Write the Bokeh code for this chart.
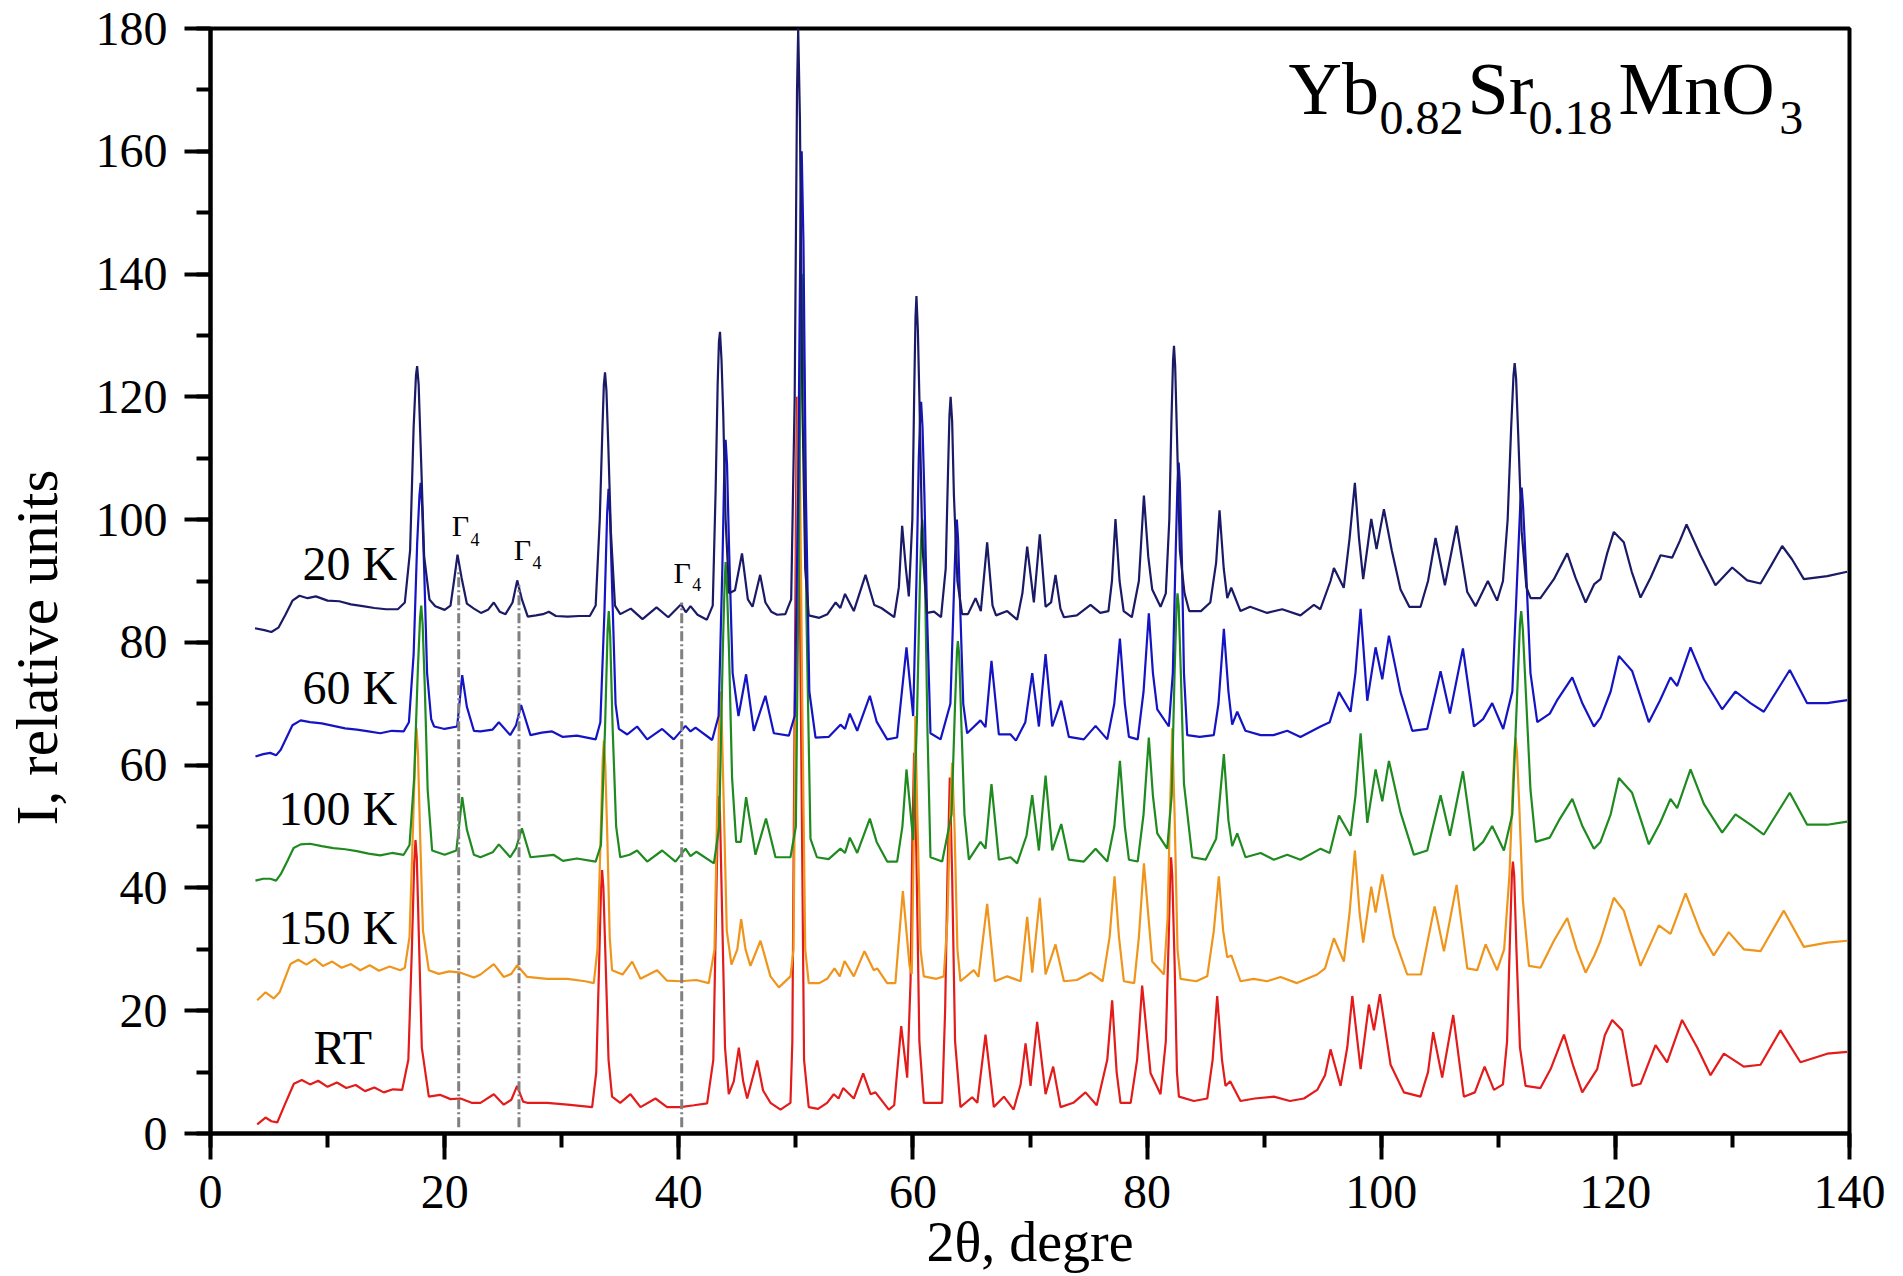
from bokeh.plotting import figure
from bokeh.models import Range1d, Label, SingleIntervalTicker
from bokeh.embed import file_html
from bokeh.resources import INLINE
from bokeh.core.properties import value

# ---------------- data ----------------
pattern_20K = [
    (3.8, 82.3), (4.6, 82.0), (5.2, 81.7), (5.8, 82.4), (6.4, 84.5), (7.0, 86.8), (7.6, 87.6), (8.3, 87.2),
    (9.0, 87.5), (10.0, 86.8), (11.0, 86.7), (12.0, 86.2), (13.0, 85.9), (14.0, 85.6), (15.0, 85.4), (16.0, 85.4),
    (16.6, 86.5), (17.05, 95), (17.35, 115), (17.55, 123.5), (17.65, 125), (17.78, 122), (17.95, 112), (18.25, 94), (18.7, 87), (19.2, 85.9),
    (20.0, 85.3), (20.5, 86.0), (20.8, 90.0), (21.1, 94.3), (21.45, 90.5), (21.9, 86.3), (22.5, 85.5), (23.1, 84.8),
    (23.7, 85.3), (24.2, 86.5), (24.7, 85.0), (25.2, 84.6), (25.8, 86.5), (26.2, 90.1), (26.6, 87.0), (27.1, 84.2),
    (27.8, 84.4), (28.4, 84.6), (28.9, 85.0), (29.5, 84.3), (30.5, 84.2), (31.5, 84.3), (32.4, 84.3),
    (32.9, 86.0), (33.25, 100), (33.48, 115), (33.6, 122), (33.7, 124), (33.82, 121), (33.98, 112), (34.2, 98), (34.55, 86), (35.0, 84.6),
    (35.9, 85.5), (36.9, 83.8), (38.1, 85.7), (39.1, 84.1), (40.2, 86.2), (40.6, 84.9), (41.0, 85.9), (41.6, 84.5),
    (42.4, 83.7), (42.9, 86.0), (43.15, 105), (43.32, 122), (43.43, 129), (43.52, 130.6), (43.65, 126), (43.8, 117), (44.0, 100), (44.3, 88),
    (44.8, 88.5), (45.4, 94.5), (45.9, 87.0), (46.3, 85.8), (46.95, 91.0), (47.4, 86.5), (47.9, 85.0), (48.4, 84.5),
    (49.1, 84.6), (49.6, 87.0), (49.9, 120), (50.1, 170), (50.2, 180), (50.35, 165), (50.55, 120), (50.8, 92),
    (51.1, 84.4), (52.0, 84.0), (52.7, 84.6), (53.4, 86.5), (53.8, 85.6), (54.2, 87.9), (54.95, 85.1), (55.95, 91.0),
    (56.7, 86.1), (57.3, 85.6), (58.4, 84.1), (58.8, 89.0), (59.08, 99.0), (59.4, 92.0), (59.65, 87.5),
    (59.95, 100), (60.12, 122), (60.22, 133), (60.3, 136.4), (60.42, 131), (60.55, 120), (60.8, 96), (61.2, 84.8), (61.8, 85.0), (62.4, 84.1),
    (62.8, 92), (63.0, 108), (63.12, 117), (63.22, 120), (63.35, 116), (63.5, 104), (63.8, 90), (64.2, 84.6), (64.7, 84.6), (65.35, 87.2),
    (65.8, 85.1), (66.34, 96.3), (66.8, 86), (67.1, 84.4), (68.05, 85.1), (68.9, 83.7), (69.35, 88), (69.76, 95.6),
    (70.33, 86.5), (70.84, 97.6), (71.33, 85.8), (71.8, 86.5), (72.18, 91.0), (72.6, 85.5), (72.9, 84.1), (74.0, 84.4),
    (75.17, 86.1), (76.0, 84.8), (76.7, 85.1), (77.0, 90), (77.3, 100.1), (77.65, 90), (78.0, 85.1), (78.7, 84.1),
    (79.3, 90), (79.73, 103.9), (80.1, 94), (80.44, 88.6), (81.15, 85.8), (81.6, 88), (81.9, 100), (82.08, 116),
    (82.22, 126), (82.3, 128.3), (82.4, 125), (82.55, 114), (82.8, 95), (83.2, 88.0), (83.6, 85.1), (84.6, 85.1), (85.4, 86.5), (85.9, 93),
    (86.19, 101.5), (86.55, 92), (86.85, 87.2), (87.19, 88.9), (87.98, 85.1), (88.8, 85.8), (90.26, 84.8),
    (91.54, 85.4), (93.1, 84.4), (94.25, 86.1), (94.8, 85.4), (95.67, 90.0), (95.96, 92.1), (96.8, 88.9), (97.3, 97),
    (97.75, 106.0), (98.1, 97), (98.46, 90.3), (99.15, 100.1), (99.6, 95.2), (100.23, 101.7), (100.9, 95),
    (101.65, 88.6), (102.4, 85.8), (103.36, 85.8), (104.0, 90), (104.64, 97.0), (105.44, 89.3), (106.44, 99.0),
    (107.35, 88.2), (108.06, 85.9), (109.11, 90.0), (109.9, 86.8), (110.4, 90), (110.8, 100), (111.1, 115),
    (111.3, 123.5), (111.4, 125.5), (111.52, 123), (111.7, 114), (112.0, 98), (112.4, 89), (112.76, 87.2), (113.6, 87.2), (114.75, 90.3),
    (115.89, 94.5), (116.6, 90.5), (117.46, 86.5), (118.2, 89.5), (118.73, 90.3), (119.3, 94.5), (119.87, 98.0),
    (120.72, 96.3), (121.4, 91.5), (122.15, 87.3), (123.0, 90.5), (123.86, 94.2), (124.85, 93.8), (125.5, 96.5),
    (126.08, 99.2), (127.27, 94.2), (128.55, 89.3), (129.98, 92.2), (131.26, 90.1), (132.4, 89.6), (133.3, 92.5),
    (134.25, 95.7), (135.1, 93.5), (136.1, 90.3), (138.1, 90.8), (139.8, 91.5),
]

pattern_60K = [
    (3.84, 61.4), (4.5, 61.8), (5.1, 62.0), (5.6, 61.6), (6.0, 62.5), (6.5, 64.5), (7.0, 66.5), (7.7, 67.3),
    (8.5, 67.0), (9.5, 66.8), (10.5, 66.4), (11.5, 66.0), (12.5, 65.8), (13.5, 65.5), (14.5, 65.2), (15.5, 65.6),
    (16.5, 65.5), (16.95, 67), (17.35, 78), (17.65, 96), (17.85, 104), (17.95, 106), (18.08, 102), (18.25, 92), (18.5, 75), (18.85, 67.5),
    (19.1, 66.3), (20.0, 65.9), (21.07, 66.3), (21.5, 74.65), (21.9, 69.5), (22.5, 65.6), (23.06, 65.5),
    (24.1, 65.8), (24.63, 67.0), (25.6, 64.9), (26.1, 66.5), (26.53, 69.8), (27.33, 64.9), (28.3, 65.3),
    (29.18, 65.5), (30.1, 64.6), (31.3, 64.8), (32.9, 64.2), (33.3, 67), (33.65, 85), (33.88, 101), (34.0, 105), (34.12, 101), (34.35, 86),
    (34.6, 70), (34.88, 65.9), (35.6, 65.0), (36.44, 66.3), (37.3, 64.2), (38.58, 65.9), (39.57, 64.2),
    (40.57, 66.4), (41.0, 65.5), (41.43, 66.1), (42.85, 64.1), (43.4, 68), (43.72, 92), (43.9, 109), (44.0, 113), (44.12, 109), (44.3, 95),
    (44.6, 75), (45.1, 68), (45.75, 74.8), (46.41, 65.6), (47.4, 71.3), (48.12, 65.2), (49.4, 64.8), (49.9, 68),
    (50.2, 105), (50.4, 150), (50.5, 160), (50.65, 145), (50.85, 105), (51.15, 72), (51.68, 64.5), (52.8, 64.6),
    (53.81, 66.6), (54.2, 65.9), (54.61, 68.4), (55.24, 65.6), (56.32, 71.3), (56.9, 67.1), (57.8, 64.2),
    (58.65, 64.5), (59.45, 79.2), (60.02, 68.0), (60.3, 90), (60.5, 110), (60.62, 117), (60.7, 119.2), (60.82, 115), (60.98, 104), (61.2, 85),
    (61.5, 65.2), (62.36, 64.2), (63.2, 70), (63.5, 88), (63.67, 98), (63.75, 100), (63.85, 97), (64.05, 85), (64.3, 70), (64.63, 65.2),
    (65.77, 67.3), (66.2, 66.2), (66.71, 77.0), (67.34, 65.0), (68.34, 65.0), (68.8, 64.0), (69.6, 67),
    (70.19, 75.0), (70.76, 66.3), (71.33, 78.1), (71.9, 66.3), (72.67, 70.5), (73.32, 64.6), (74.6, 64.2),
    (75.6, 66.4), (76.6, 64.2), (77.2, 70), (77.68, 80.6), (78.1, 70), (78.45, 64.6), (79.2, 64.2), (79.7, 72),
    (80.15, 84.75), (80.5, 75), (80.87, 69.1), (81.86, 66.3), (82.2, 75), (82.45, 95), (82.6, 106), (82.7, 109.3), (82.8, 106), (82.98, 93),
    (83.15, 75), (83.43, 64.9), (84.5, 64.6), (85.7, 64.9), (86.1, 70), (86.56, 82.2), (86.95, 72), (87.27, 66.6),
    (87.7, 68.7), (88.4, 65.6), (89.7, 64.9), (90.8, 64.9), (91.97, 65.6), (93.1, 64.6), (94.82, 66.3),
    (95.6, 67.0), (96.39, 71.9), (97.38, 68.7), (97.8, 75), (98.24, 85.45), (98.81, 70.5), (99.52, 79.2),
    (100.09, 74.0), (100.66, 81.1), (101.65, 71.9), (102.65, 65.6), (103.93, 65.9), (105.07, 75.3), (105.87, 68.4),
    (106.98, 79.0), (107.92, 66.3), (108.7, 67.5), (109.48, 70.1), (110.42, 65.9), (111.2, 72), (111.6, 90),
    (111.88, 102.5), (112.0, 105.2), (112.12, 102), (112.35, 93), (112.75, 75), (113.33, 67.0), (114.4, 68.4), (115.0, 70.5), (116.32, 74.3),
    (117.2, 70.0), (118.17, 66.3), (118.73, 67.7), (119.6, 72), (120.3, 77.8), (121.43, 75.35), (122.86, 67.0),
    (123.8, 70.5), (124.71, 74.3), (125.28, 72.9), (126.42, 79.2), (127.56, 74.0), (129.12, 69.1), (130.26, 72.0),
    (131.54, 70.1), (132.68, 68.7), (134.9, 75.5), (136.38, 70.1), (138.1, 70.1), (139.8, 70.6),
]

pattern_100K = [
    (3.84, 41.2), (4.5, 41.5), (5.1, 41.5), (5.6, 41.2), (6.0, 42.25), (6.6, 44.5), (7.1, 46.5), (7.7, 47.1),
    (8.5, 47.2), (9.5, 46.8), (10.5, 46.5), (11.5, 46.3), (12.5, 46.0), (13.5, 45.6), (14.5, 45.3), (15.5, 45.7),
    (16.5, 45.4), (17.0, 47), (17.4, 58), (17.72, 76), (17.9, 84), (18.0, 86), (18.12, 83), (18.3, 73), (18.55, 56), (18.93, 46.1),
    (20.0, 45.4), (21.0, 46.1), (21.5, 54.8), (21.9, 49.5), (22.5, 45.4), (23.06, 45.0), (24.1, 45.8),
    (24.63, 47.1), (25.6, 45.0), (26.1, 46.5), (26.6, 49.7), (27.33, 45.0), (29.3, 45.4), (30.1, 44.4),
    (31.3, 44.8), (32.9, 44.3), (33.35, 47), (33.7, 66), (33.92, 82), (34.02, 85.1), (34.14, 81), (34.35, 66), (34.65, 50), (35.0, 45.0),
    (35.8, 45.4), (36.44, 46.1), (37.3, 44.3), (38.58, 46.1), (39.72, 44.3), (40.57, 46.4), (41.0, 45.2),
    (41.51, 45.9), (43.0, 44.0), (43.45, 50), (43.75, 78), (43.92, 90), (44.0, 93.1), (44.1, 90), (44.3, 78), (44.55, 58), (44.9, 47.5),
    (45.3, 47.5), (45.75, 54.8), (46.55, 45.4), (47.45, 51.3), (48.26, 45.0), (49.54, 45.0), (50.0, 50),
    (50.25, 95), (50.45, 135), (50.5, 140), (50.7, 125), (50.9, 85), (51.25, 48), (51.8, 45.0), (52.8, 44.7),
    (53.81, 46.4), (54.2, 45.7), (54.61, 48.2), (55.24, 45.7), (56.32, 51.3), (56.9, 47.5), (57.8, 44.3),
    (58.65, 44.3), (59.1, 50), (59.45, 59.3), (60.02, 47.8), (60.35, 68), (60.6, 90), (60.72, 98), (60.8, 100), (60.9, 97), (61.05, 88),
    (61.25, 65), (61.5, 45.0), (62.5, 44.3), (63.3, 52), (63.6, 70), (63.76, 78.5), (63.84, 80.2), (63.95, 78), (64.15, 66), (64.4, 52),
    (64.78, 44.6), (65.77, 47.5), (66.2, 46.4), (66.71, 56.9), (67.34, 44.6), (68.34, 45.0), (68.9, 44.0),
    (69.7, 48.5), (70.19, 55.1), (70.76, 46.1), (71.33, 58.3), (71.9, 46.1), (72.67, 50.4), (73.32, 44.6),
    (74.6, 44.3), (75.6, 46.4), (76.6, 44.3), (77.2, 50), (77.68, 60.7), (78.1, 50), (78.45, 44.6), (79.2, 44.3),
    (79.7, 52), (80.15, 64.5), (80.5, 55), (80.87, 48.9), (81.72, 46.4), (82.1, 55), (82.35, 75), (82.52, 86), (82.6, 88),
    (82.7, 86), (82.9, 74), (83.15, 57), (83.86, 45.0), (85.0, 44.6), (85.9, 48), (86.56, 61.8), (86.95, 51), (87.27, 46.8),
    (87.7, 48.9), (88.41, 45.0), (89.7, 45.7), (90.83, 44.6), (91.97, 45.4), (93.1, 44.6), (94.82, 46.4),
    (95.6, 45.7), (96.39, 51.8), (97.38, 48.5), (97.8, 55), (98.24, 65.2), (98.81, 50.6), (99.52, 59.3),
    (100.09, 54.1), (100.66, 60.7), (101.65, 52.3), (102.79, 45.4), (103.93, 46.1), (105.07, 55.1),
    (105.87, 48.5), (106.98, 59.0), (107.92, 46.1), (108.7, 47.5), (109.48, 50.1), (110.48, 46.1), (111.2, 52),
    (111.6, 71), (111.85, 83), (111.96, 85.1), (112.1, 82), (112.35, 72), (112.75, 56), (113.19, 47.5), (114.4, 48.2), (115.18, 51.0),
    (116.32, 54.5), (117.2, 50), (118.17, 46.4), (118.73, 47.5), (119.6, 52), (120.3, 57.9), (121.43, 55.5),
    (122.86, 47.1), (123.8, 50.5), (124.71, 54.5), (125.28, 53.0), (126.42, 59.3), (127.56, 53.7), (129.12, 49.0),
    (130.26, 52.0), (131.54, 50.3), (132.68, 48.7), (134.9, 55.5), (136.38, 50.3), (138.1, 50.3), (139.8, 50.8),
]

pattern_150K = [
    (3.99, 21.7), (4.7, 23.0), (5.4, 22.0), (5.9, 23.0), (6.3, 25.0), (6.83, 27.6), (7.5, 28.3), (8.2, 27.5),
    (8.9, 28.4), (9.6, 27.3), (10.4, 28.0), (11.2, 27.0), (12.0, 27.6), (12.8, 26.6), (13.6, 27.4), (14.4, 26.5),
    (15.3, 27.2), (16.2, 26.6), (16.6, 27.0), (17.0, 32), (17.3, 50), (17.5, 63), (17.6, 66), (17.72, 62), (17.9, 49), (18.15, 33),
    (18.65, 26.6), (19.5, 26.0), (20.4, 26.4), (21.36, 26.2), (22.5, 25.4), (23.06, 25.9), (24.2, 27.6),
    (25.05, 25.5), (25.7, 26.0), (26.19, 27.4), (27.05, 25.5), (28.75, 25.2), (30.5, 25.2), (32.0, 24.8),
    (32.74, 24.5), (33.05, 30), (33.35, 50), (33.5, 61), (33.6, 64), (33.72, 60), (33.9, 48), (34.1, 32), (34.3, 26.6), (35.2, 25.9),
    (36.02, 28.0), (36.73, 25.2), (38.15, 26.6), (39.0, 24.9), (40.14, 24.8), (41.5, 25.0), (42.56, 24.5),
    (43.05, 30), (43.3, 55), (43.46, 69), (43.55, 72), (43.66, 68), (43.85, 53), (44.1, 33), (44.5, 27.5), (45.0, 30), (45.33, 34.9),
    (45.7, 30), (46.12, 27.3), (46.98, 31.4), (47.83, 25.6), (48.55, 23.8), (49.54, 25.6), (49.8, 30),
    (50.0, 75), (50.15, 112), (50.2, 120), (50.35, 108), (50.55, 70), (50.8, 30), (51.1, 24.5), (52.0, 24.5),
    (52.67, 25.2), (53.3, 26.9), (53.75, 25.6), (54.16, 28.1), (54.95, 25.6), (55.86, 29.7), (56.66, 26.6),
    (56.95, 26.9), (57.8, 24.5), (58.5, 24.5), (59.14, 39.5), (59.71, 27.3), (59.9, 26), (60.05, 45), (60.2, 68),
    (60.4, 50), (60.65, 30), (60.93, 25.6), (62.0, 25.2), (62.64, 25.6), (62.95, 35), (63.15, 50), (63.35, 60.4),
    (63.55, 50), (63.8, 30), (64.06, 24.8), (65.2, 26.6), (65.6, 25.5), (66.34, 37.4), (67.0, 24.8), (68.05, 25.6),
    (69.2, 24.8), (69.76, 35.3), (70.19, 26.2), (70.84, 38.4), (71.33, 25.9), (72.18, 30.8), (72.9, 24.8),
    (74.0, 25.0), (75.17, 26.2), (76.2, 24.8), (76.8, 32), (77.22, 41.9), (77.6, 32), (78.02, 24.8), (78.9, 24.5),
    (79.3, 32), (79.73, 44.0), (80.44, 28.0), (81.44, 25.9), (81.75, 35), (81.95, 52), (82.15, 66), (82.35, 52),
    (82.6, 30), (82.86, 25.2), (84.2, 24.8), (85.14, 25.6), (85.7, 33), (86.13, 41.9), (86.5, 33), (86.85, 28.7),
    (87.2, 29.0), (87.98, 24.8), (89.1, 25.2), (90.26, 24.8), (91.4, 25.5), (92.8, 24.5), (94.53, 25.9),
    (95.2, 26.9), (95.96, 31.8), (96.81, 28.0), (97.3, 36), (97.75, 46.1), (98.15, 36), (98.46, 31.1),
    (99.15, 40.2), (99.52, 36.0), (100.09, 42.2), (101.08, 32.1), (102.22, 25.9), (103.4, 25.9), (104.56, 37.0),
    (105.36, 29.7), (106.44, 40.5), (107.35, 26.9), (108.2, 26.6), (108.92, 30.8), (109.9, 26.6), (110.5, 30),
    (110.95, 42), (111.25, 57), (111.4, 63), (111.48, 64.5), (111.6, 62), (111.8, 53), (112.1, 38), (112.62, 27.3), (113.6, 27.0),
    (114.75, 31.4), (115.89, 35.1), (116.7, 30), (117.46, 26.2), (118.2, 29), (118.73, 31.4), (119.87, 38.4),
    (120.72, 36.3), (122.15, 27.3), (123.71, 33.9), (124.71, 32.5), (126.0, 39.1), (127.27, 32.8), (128.4, 29.0),
    (129.69, 32.8), (130.97, 30.0), (132.4, 29.7), (134.39, 36.3), (136.1, 30.4), (138.1, 31.1), (139.8, 31.4),
]

pattern_RT = [
    (3.99, 1.5), (4.7, 2.6), (5.2, 2.0), (5.7, 1.8), (6.3, 4.5), (7.12, 8.1), (7.8, 8.7), (8.5, 8.0), (9.2, 8.6),
    (10.0, 7.6), (10.8, 8.3), (11.6, 7.4), (12.4, 7.9), (13.2, 6.9), (14.0, 7.5), (14.8, 6.7), (15.6, 7.2),
    (16.37, 7.1), (16.9, 12), (17.2, 30), (17.4, 44), (17.51, 47.8), (17.62, 45), (17.8, 32), (18.05, 14), (18.65, 6.0), (19.6, 6.3),
    (20.5, 5.6), (21.36, 5.7), (22.3, 5.0), (23.06, 5.0), (24.2, 6.4), (25.05, 4.7), (25.7, 5.5), (26.19, 7.75),
    (26.7, 5.2), (27.05, 5.0), (28.75, 5.0), (30.5, 4.7), (32.6, 4.3), (32.95, 10), (33.2, 28), (33.36, 40), (33.45, 42.9),
    (33.56, 40), (33.75, 28), (34.0, 12), (34.3, 6.0), (35.0, 5.0), (35.87, 6.4), (36.73, 4.3), (38.01, 5.7), (39.0, 4.3),
    (40.14, 4.3), (41.3, 4.6), (42.42, 4.9), (42.95, 12), (43.2, 38), (43.34, 52), (43.42, 55), (43.52, 52), (43.7, 36), (43.95, 14),
    (44.27, 6.4), (44.7, 8.5), (45.13, 14.0), (45.5, 8.5), (45.84, 5.7), (46.7, 11.9), (47.2, 7.0), (47.83, 5.0),
    (48.69, 3.9), (49.54, 5.0), (49.7, 15), (49.9, 70), (50.05, 112), (50.1, 120), (50.25, 108), (50.45, 65),
    (50.7, 12), (51.1, 4.3), (51.9, 4.0), (52.67, 5.0), (53.24, 6.4), (53.65, 5.7), (54.04, 7.4), (54.95, 5.7),
    (55.75, 9.8), (56.38, 6.4), (56.8, 6.7), (57.94, 3.9), (58.4, 4.6), (59.0, 17.5), (59.51, 9.1), (59.8, 25),
    (59.95, 48), (60.1, 62), (60.3, 45), (60.55, 15), (60.93, 5.0), (62.0, 5.0), (62.5, 5.0), (62.75, 20),
    (62.95, 42), (63.15, 58), (63.35, 42), (63.6, 15), (64.06, 4.3), (65.06, 5.9), (65.5, 5.0), (66.2, 16.1),
    (66.91, 4.3), (67.77, 6.0), (68.6, 3.9), (69.2, 8), (69.62, 14.7), (70.05, 7.75), (70.61, 18.2), (71.33, 6.4),
    (71.98, 10.9), (72.61, 4.3), (73.7, 5.0), (74.74, 6.7), (75.7, 4.6), (76.6, 12), (77.02, 21.7), (77.4, 10),
    (77.73, 5.0), (78.6, 5.0), (79.15, 12), (79.58, 24.1), (80.3, 9.8), (81.15, 6.4), (81.6, 15), (81.85, 32),
    (81.97, 42), (82.05, 45), (82.15, 42), (82.35, 28), (82.55, 10), (82.72, 6.0), (84.0, 5.3), (85.14, 5.7), (85.6, 12), (85.99, 22.4),
    (86.4, 12), (86.7, 7.75), (87.1, 8.5), (87.98, 5.3), (89.2, 5.7), (90.83, 6.0), (92.2, 5.3), (93.4, 5.7),
    (94.53, 7.1), (95.2, 9.5), (95.67, 13.7), (96.53, 7.75), (97.1, 14), (97.53, 22.4), (98.24, 10.5),
    (98.95, 21.0), (99.38, 16.8), (99.89, 22.7), (100.8, 11.2), (101.94, 6.7), (103.36, 6.0), (104.0, 10),
    (104.44, 16.5), (105.21, 9.1), (106.15, 19.3), (107.06, 6.0), (108.0, 6.7), (108.83, 10.9), (109.63, 7.1),
    (110.4, 8.0), (110.75, 15), (111.0, 32), (111.16, 42), (111.25, 44.3), (111.36, 42), (111.55, 30), (111.85, 14), (112.33, 7.75),
    (113.6, 7.4), (114.47, 10.5), (115.61, 16.1), (116.4, 11), (117.17, 6.7), (118.45, 10.5), (119.1, 16),
    (119.73, 18.5), (120.58, 16.8), (121.43, 7.75), (122.15, 8.1), (123.43, 14.4), (124.42, 11.6), (125.7, 18.5),
    (126.99, 14.0), (128.13, 9.5), (129.27, 13.0), (130.97, 10.9), (132.4, 11.2), (134.1, 16.8), (135.81, 11.6),
    (138.1, 13.0), (139.8, 13.3),
]

series_names = ["RT", "150 K", "100 K", "60 K", "20 K"]
series_data = [pattern_RT, pattern_150K, pattern_100K, pattern_60K, pattern_20K]

gamma4_angles = [21.2, 26.35, 40.25]        # 2theta of the Gamma4 reflections
gamma4_top = [92.0, 89.3, 86.5]

x_ticks_interval = 20
y_ticks_interval = 20

# ---------------- styling ----------------
FONT = "Liberation Serif"
colors = {"RT": "#e31b1b", "150 K": "#f0951c", "100 K": "#1f8a1f", "60 K": "#1414c4", "20 K": "#1a1a66"}

p = figure(frame_width=1639, frame_height=1105,
           x_range=Range1d(0, 140), y_range=Range1d(0, 180),
           output_backend="svg", toolbar_location=None,
           min_border_left=210, min_border_top=28, min_border_right=42, min_border_bottom=140)
p.background_fill_color = "white"
p.border_fill_color = "white"
p.xgrid.visible = False
p.ygrid.visible = False
p.outline_line_color = "black"
p.outline_line_width = 4
p.outline_line_alpha = 1.0

p.xaxis.ticker = SingleIntervalTicker(interval=x_ticks_interval, num_minor_ticks=2)
p.yaxis.ticker = SingleIntervalTicker(interval=y_ticks_interval, num_minor_ticks=2)
for ax in (p.xaxis[0], p.yaxis[0]):
    ax.axis_line_width = 4
    ax.axis_line_color = "black"
    ax.major_tick_line_width = 4
    ax.minor_tick_line_width = 4
    ax.major_tick_line_color = "black"
    ax.minor_tick_line_color = "black"
    ax.major_tick_out = 26
    ax.major_tick_in = 0
    ax.minor_tick_out = 14
    ax.minor_tick_in = 0
    ax.major_label_text_font = FONT
    ax.major_label_text_font_size = "48px"
    ax.major_label_text_color = "black"
    ax.axis_label_text_font = FONT
    ax.axis_label_text_font_style = "normal"
    ax.axis_label_text_color = "black"
p.xaxis.axis_label_text_font_size = "56px"
p.yaxis.axis_label_text_font_size = "59px"
p.xaxis.major_label_standoff = 16
p.yaxis.major_label_standoff = 17
p.xaxis.axis_label = "2θ, degre"
p.xaxis.axis_label_standoff = 0
p.yaxis.axis_label = "I, relative units" + "\u00a0" * 9
p.yaxis.axis_label_standoff = 23

# curves
for name, pts in zip(series_names, series_data):
    xs = [a for a, b in pts]
    ys = [b for a, b in pts]
    p.line(xs, ys, line_color=colors[name], line_width=2.2)

# Gamma4 dash-dot markers
p.segment(x0=gamma4_angles, y0=[1.0] * 3, x1=gamma4_angles, y1=gamma4_top,
          line_color="#808080", line_width=3, line_dash="10 3 2 3")

# Gamma4 labels (anchor compensates the renderer's baseline offset)
gam_x = [20.6, 25.9, 39.55]
gam_y = [99.0, 95.1, 91.4]
sub_y = [96.7, 93.0, 89.4]
p.text(x=gam_x, y=gam_y, text=["Γ"] * 3, text_font=value(FONT), text_font_size="30px",
       text_color="black", text_align="left", text_baseline="alphabetic")
p.text(x=[g + 1.6 for g in gam_x], y=sub_y, text=["4"] * 3, text_font=value(FONT),
       text_font_size="18px", text_color="black", text_align="left", text_baseline="alphabetic")

# series labels
p.text(x=[15.95] * 4, y=[92.8, 72.6, 53.0, 33.5], text=["20 K", "60 K", "100 K", "150 K"],
       text_font=value(FONT), text_font_size="48px", text_color="black",
       text_align="right", text_baseline="alphabetic")
p.text(x=[8.8], y=[14.0], text=["RT"], text_font=value(FONT), text_font_size="48px",
       text_color="black", text_align="left", text_baseline="alphabetic")

# chemical formula Yb0.82Sr0.18MnO3
formula_parts = [("Yb", 92.08, 170.1, "74px"), ("0.82", 99.86, 165.5, "48px"),
                 ("Sr", 107.37, 170.1, "74px"), ("0.18", 112.58, 165.5, "48px"),
                 ("MnO", 120.27, 170.1, "74px"), ("3", 134.0, 165.5, "48px")]
for txt, fx, fy, fs in formula_parts:
    p.add_layout(Label(x=fx, y=fy, text=txt, text_font=FONT, text_font_size=fs,
                       text_color="black", text_align="left", text_baseline="alphabetic"))

open("out.html", "w").write(file_html(p, INLINE))
